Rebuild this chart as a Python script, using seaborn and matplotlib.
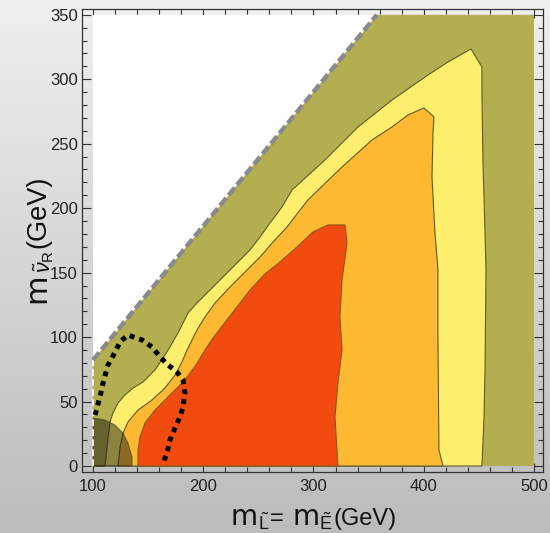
import numpy as np
import matplotlib
matplotlib.use("Agg")
import matplotlib.pyplot as plt
from matplotlib.colors import LinearSegmentedColormap
from matplotlib.ticker import MultipleLocator
import seaborn as sns
import pandas as pd

# ---------------- data ----------------
# kinematic boundary (dashed gray line)
bound_x = [100.0, 357.5]
bound_y = [82.2, 350.0]

# outer edge of the yellow region
yellow_x = [100.0, 110.9, 112.7, 115.4, 118.1, 122.7, 129.0, 136.3, 145.4, 156.2, 165.3, 169.8,
            174.4, 177.1, 181.6, 186.2, 194.3, 206.1, 217.9, 230.6, 242.4, 251.5, 260.5,
            271.4, 280.5, 310.4, 340.4, 371.2, 403.9, 422.0, 442.9, 452.8, 452.8, 453.7,
            455.6, 456.5, 455.6, 454.6, 452.8]
yellow_y = [0.0, 0.0, 14.7, 34.1, 41.1, 48.9, 55.1, 60.5, 65.2, 74.5, 86.1, 92.3,
            99.3, 103.2, 110.9, 118.7, 126.5, 136.5, 146.6, 157.5, 167.6, 177.7, 188.5,
            200.9, 214.1, 237.4, 263.0, 283.9, 303.3, 313.4, 323.5, 309.5, 289.4, 237.4,
            180.8, 152.1, 74.5, 35.7, 0.0]

# outer edge of the orange region
orange_x = [122.7, 124.5, 127.2, 131.7, 140.8, 153.5, 165.3, 174.4, 180.7, 185.3, 194.3, 201.6,
            210.7, 224.3, 239.7, 251.5, 263.3, 276.0, 285.0, 295.0, 325.9, 353.1, 371.2,
            385.7, 400.2, 409.3, 408.4, 407.5, 410.2, 412.9, 412.9, 413.8, 417.5]
orange_y = [0.0, 14.7, 25.6, 34.1, 43.4, 51.2, 60.5, 70.6, 80.7, 90.0, 105.5, 115.6,
            126.5, 138.9, 152.1, 162.1, 173.8, 185.4, 195.5, 206.4, 232.0, 252.9, 263.0,
            272.3, 277.7, 270.8, 258.3, 224.2, 180.8, 152.1, 100.1, 12.4, 0.0]

# outer edge of the red region
red_x = [140.8, 140.8, 142.6, 147.2, 156.2, 168.0, 183.4, 193.4, 201.6, 208.8, 221.5, 230.6,
         242.4, 256.0, 269.6, 285.0, 299.5, 313.2, 328.6, 330.4, 325.9, 324.0, 325.9,
         322.2, 319.5, 321.3, 322.2]
red_y = [0.0, 12.4, 22.5, 33.4, 43.4, 53.5, 66.7, 78.4, 90.0, 99.3, 113.3, 123.4,
         136.5, 149.0, 158.3, 169.9, 181.5, 187.0, 187.0, 173.0, 144.3, 115.6, 90.0,
         64.4, 38.0, 12.4, 0.0]

# dotted black contour
dot_x = [101.8, 106.3, 109.1, 113.6, 120.0, 124.5, 131.7, 144.4, 153.5, 160.8, 168.0, 176.2,
         181.6, 183.4, 181.6, 178.9, 174.4, 169.8, 167.1, 163.5]
dot_y = [39.6, 53.5, 64.4, 78.4, 88.4, 96.2, 101.6, 97.8, 92.3, 84.6, 78.4, 72.9,
         66.7, 56.6, 45.8, 38.0, 29.5, 20.2, 10.1, 2.3]

# dark translucent excluded region (bottom-left)
excl_x = [100.0, 100.0, 110.9, 120.0, 127.2, 131.7, 135.4, 135.4]
excl_y = [0.0, 37.2, 35.7, 31.8, 25.6, 17.8, 7.0, 0.0]

x_ticks = [100, 200, 300, 400, 500]
y_ticks = [0, 50, 100, 150, 200, 250, 300, 350]

# label pieces: (text, fontsize, baseline drop px, gap after px, family)
xlabel_pieces = [("m", 20, 0, 0, "DejaVu Sans"),
                 (r"$\tilde{\mathrm{L}}$", 13, 5, 1, "Liberation Sans"),
                 ("=", 17, 0, 8, "Liberation Sans"),
                 ("m", 20, 0, 0, "DejaVu Sans"),
                 (r"$\tilde{\mathrm{E}}$", 13, 5, 1, "Liberation Sans"),
                 ("(GeV)", 17, 0, 0, "Liberation Sans")]
ylabel_pieces = [("m", 22, 0, 0, "DejaVu Sans"),
                 (r"$\tilde{\nu}_{\mathrm{R}}$", 15.5, 5, 2, "Liberation Sans"),
                 ("(GeV)", 19.5, 0, 0, "Liberation Sans")]

# ---------------- style ----------------
sns.set_theme(style="ticks")
plt.rcParams["font.family"] = ["Liberation Sans", "DejaVu Sans"]
plt.rcParams["mathtext.fontset"] = "custom"
plt.rcParams["mathtext.rm"] = "Liberation Sans"
plt.rcParams["mathtext.it"] = "Liberation Sans:italic"
plt.rcParams["mathtext.bf"] = "Liberation Sans:bold"

OLIVE = "#b3ae50"
YELLOW = "#fdee6e"
ORANGE = "#fdb932"
RED = "#f24b0f"
EDGE = "#5f5a28"

fig = plt.figure(figsize=(5.5, 5.33), dpi=100)
W, H = 550.0, 533.0

# gradient background
bg = fig.add_axes([0, 0, 1, 1], zorder=-10)
grad = np.linspace(0, 1, 256).reshape(-1, 1)
cmap = LinearSegmentedColormap.from_list("bg", ["#f0f0f0", "#d6d6d6", "#bcbcbc"])
bg.imshow(grad, aspect="auto", cmap=cmap, extent=[0, 1, 0, 1], origin="upper")
bg.axis("off")

ax = fig.add_axes([82 / W, 1 - 472 / H, 461 / W, 463 / H])
ax.set_facecolor("none")

# plotting region
ax.fill([100, 500, 500, 100], [0, 0, 350, 350], color="white", lw=0, zorder=1)
ax.fill([100, 100, bound_x[1], 500, 500], [0, bound_y[0], 350, 350, 0], color=OLIVE, lw=0, zorder=2)
ax.fill(yellow_x, yellow_y, facecolor=YELLOW, edgecolor=EDGE, lw=0.8, zorder=3)
ax.fill(orange_x, orange_y, facecolor=ORANGE, edgecolor=EDGE, lw=0.8, zorder=4)
ax.fill(red_x, red_y, facecolor=RED, edgecolor="#8a5a18", lw=0.8, zorder=5)
ax.fill(excl_x, excl_y, facecolor="#1a1a10", alpha=0.5, edgecolor="#333320", lw=0.8, zorder=6)

# left white dashed edge
ax.plot([100, 100], [0, bound_y[0]], color="white", lw=1.2, ls=(0, (4, 2)), zorder=7)

# kinematic boundary
bdf = pd.DataFrame({"x": bound_x, "y": bound_y})
sns.lineplot(data=bdf, x="x", y="y", ax=ax, color="#8a8a8a", linewidth=3.2,
             linestyle=(0, (2.2, 0.8)), sort=False, estimator=None, zorder=8)

# dotted contour
ddf = pd.DataFrame({"x": dot_x, "y": dot_y})
sns.lineplot(data=ddf, x="x", y="y", ax=ax, color="black", linewidth=3.6,
             linestyle=(0, (1.0, 1.0)), sort=False, estimator=None, zorder=9)

ax.set_xlim(90.0, 508.2)
ax.set_ylim(-4.65, 354.5)
ax.set_xticks(x_ticks)
ax.set_yticks(y_ticks)
ax.set_xticklabels([str(v) for v in x_ticks])
ax.set_yticklabels([str(v) for v in y_ticks])
ax.xaxis.set_minor_locator(MultipleLocator(20))
ax.yaxis.set_minor_locator(MultipleLocator(10))
ax.tick_params(which="both", direction="in", top=True, right=True, color="#333333", width=0.8)
ax.tick_params(which="major", length=6.5, labelsize=12, labelcolor="#222222")
ax.tick_params(which="minor", length=3.6)
ax.tick_params(axis="x", pad=5)
ax.tick_params(axis="y", pad=3)
ax.set_xlabel("")
ax.set_ylabel("")
for s in ax.spines.values():
    s.set_color("#333333")
    s.set_linewidth(0.9)


# ---------------- axis titles built from pieces ----------------
def draw_label(pieces, center_px, base_px, vertical=False):
    renderer = fig.canvas.get_renderer()
    widths = []
    for s, fs, dy, gap, fam in pieces:
        t = fig.text(0, 0, s, fontsize=fs, family=fam)
        widths.append(t.get_window_extent(renderer=renderer).width)
        t.remove()
    total = sum(widths) + sum(p[3] for p in pieces[:-1])
    pos = center_px - total / 2.0
    for (s, fs, dy, gap, fam), w in zip(pieces, widths):
        if not vertical:
            fig.text(pos / W, (base_px - dy) / H, s, fontsize=fs, family=fam,
                     ha="left", va="baseline", color="#111111")
        else:
            fig.text((base_px + dy) / W, pos / H, s, fontsize=fs, family=fam, rotation=90,
                     rotation_mode="anchor", ha="left", va="baseline", color="#111111")
        pos += w + gap


# x title: centred at x=313 px, baseline 8 px above the bottom edge
draw_label(xlabel_pieces, 313.5, 8.0, vertical=False)
# y title: centred at y=239.5 px from top, baseline at x=45 px
draw_label(ylabel_pieces, H - 239.5, 45.0, vertical=True)

fig.savefig("out.png", dpi=100)
